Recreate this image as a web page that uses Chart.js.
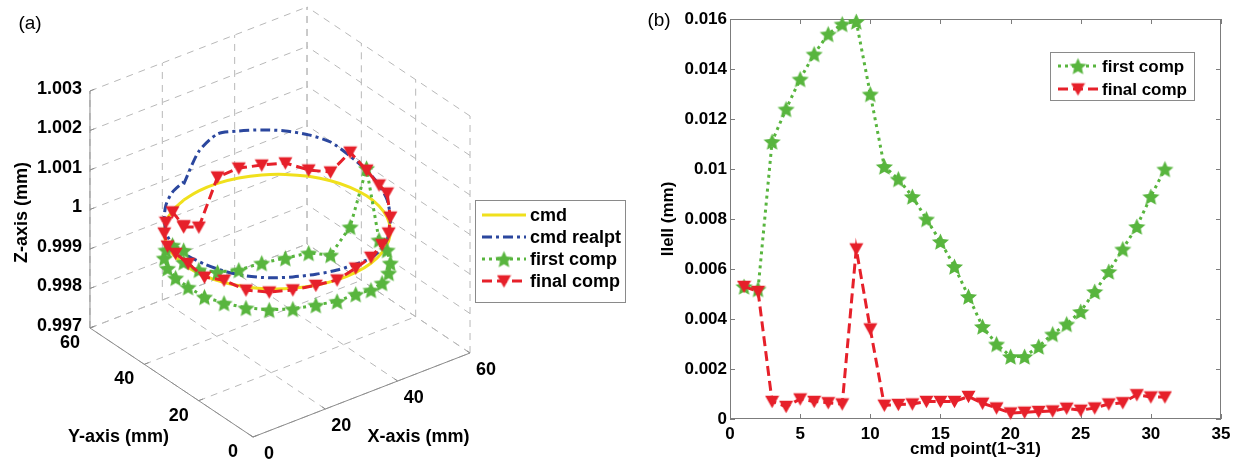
<!DOCTYPE html>
<html>
<head>
<meta charset="utf-8">
<script src="https://cdn.jsdelivr.net/npm/chart.js@4.4.0/dist/chart.umd.min.js"></script>
<style>
  html, body { margin: 0; padding: 0; background: #fff; }
  body { width: 1234px; height: 462px; position: relative; overflow: hidden; }
  canvas { position: absolute; top: 0; }
  #pathChart { left: 0; }
  #errChart { left: 630px; }
</style>
</head>
<body>
<canvas id="pathChart" width="640" height="462"></canvas>
<canvas id="errChart" width="604" height="462"></canvas>
<script>
// ---- (a) 3D path data ----
// angle of each of the 31 command points on the circle, in the XY plane (deg)
const pointAngles = [109, 97, 85, 73, 61, 49, 37, 25, 13, 1, -11, -23, -35, -47, -59, -71,
    -83, -95, -107, -119, -131, -143, -155, -167, -179, -191, -203, -215, -227, -239, -251];
const circleCenter = [27, 27];
const circleRadius = 25;

const cmdZ = [1, 1, 1, 1, 1, 1, 1, 1, 1, 1, 1, 1, 1, 1, 1, 1,
    1, 1, 1, 1, 1, 1, 1, 1, 1, 1, 1, 1, 1, 1, 1];
const realptZ = [1.0004, 1.001, 1.00125, 1.00119, 1.00114, 1.0011, 1.00105, 1.00098, 1.00079, 1.00065,
    1.00053, 1.00044, 1.0003, 1.00015, 1.00011, 1.00013, 1.00021, 1.00025, 1.00028, 1.00029,
    1.00028, 1.00028, 1.00029, 1.0003, 1.00029, 1.00026, 1.00025, 1.00036, 1.00044, 1.00047, 1.00046];
const firstZ = [0.99843, 0.998, 0.99775, 0.99767, 0.99777, 0.99788, 0.99806, 0.99812, 0.999, 1.0007,
    0.99914, 0.99917, 0.99914, 0.99919, 0.99923, 0.99932, 0.99945, 0.99946, 0.9995, 0.99948,
    0.99947, 0.99947, 0.99948, 0.99947, 0.9995, 0.99948, 0.99944, 0.9994, 0.9993, 0.99913, 0.99873];
const finalZ = [0.99932, 0.99908, 1.00016, 1.00025, 1.00025, 1.00029, 1.00016, 1.00022, 1.00089, 1.00065,
    1.00053, 1.00061, 1.0003, 1.0002, 1.0002, 1.00015, 1.00011, 1.0, 1.0, 0.99996,
    0.99992, 0.99992, 1.00006, 0.99997, 1.0001, 1.0001, 1.0, 1.00003, 1.0, 0.99997, 0.99935];

const xyTicks = [0, 20, 40, 60];
const zTicks = [0.997, 0.998, 0.999, 1, 1.001, 1.002, 1.003];
const zTickLabels = ['0.997', '0.998', '0.999', '1', '1.001', '1.002', '1.003'];

// ---- (b) error per command point ----
const cmdPoints = [1, 2, 3, 4, 5, 6, 7, 8, 9, 10, 11, 12, 13, 14, 15, 16,
    17, 18, 19, 20, 21, 22, 23, 24, 25, 26, 27, 28, 29, 30, 31];
const firstErr = [0.0053, 0.0052, 0.0111, 0.0124, 0.0136, 0.0146, 0.0154, 0.0158, 0.0159, 0.0130,
    0.0101, 0.0096, 0.0089, 0.0080, 0.0071, 0.0061, 0.0049, 0.0037, 0.0030, 0.0025,
    0.0025, 0.0029, 0.0034, 0.0038, 0.0043, 0.0051, 0.0059, 0.0068, 0.0077, 0.0089, 0.0100];
const finalErr = [0.0053, 0.0051, 0.0007, 0.0005, 0.0008, 0.0007, 0.00065, 0.0006, 0.0068, 0.0036,
    0.00055, 0.00058, 0.0006, 0.0007, 0.0007, 0.0007, 0.0009, 0.00063, 0.00044, 0.00024,
    0.00027, 0.0003, 0.00032, 0.00043, 0.00035, 0.00044, 0.0006, 0.00065, 0.00097, 0.00088, 0.00088];
const errTicks = [0, 0.002, 0.004, 0.006, 0.008, 0.01, 0.012, 0.014, 0.016];
const pointTicks = [0, 5, 10, 15, 20, 25, 30, 35];

// ---- styles ----
const FONT = 'Liberation Sans, Arial, sans-serif';
const GREEN = '#58b53e';
const RED = '#e6202a';
const BLUE = '#2b479e';
const YELLOW = '#f0e01c';

function starMarker(size, color) {
    const c = document.createElement('canvas');
    c.width = c.height = size;
    const g = c.getContext('2d');
    const r = size / 2;
    g.beginPath();
    for (let i = 0; i < 10; i++) {
        const a = -Math.PI / 2 + i * Math.PI / 5;
        const rr = i % 2 ? r * 0.44 : r - 0.5;
        g.lineTo(r + rr * Math.cos(a), r + 1 + rr * Math.sin(a));
    }
    g.closePath();
    g.fillStyle = color;
    g.fill();
    return c;
}

function triMarker(size, color) {
    const c = document.createElement('canvas');
    c.width = c.height = size;
    const g = c.getContext('2d');
    g.beginPath();
    g.moveTo(0.5, size * 0.12);
    g.lineTo(size - 0.5, size * 0.12);
    g.lineTo(size / 2, size * 0.95);
    g.closePath();
    g.fillStyle = color;
    g.fill();
    return c;
}

const styles = {
    cmd: { color: YELLOW, width: 3, dash: [] },
    realpt: { color: BLUE, width: 3, dash: [10, 4, 3, 4] },
    first: { color: GREEN, width: 3, dash: [3, 4], marker: starMarker(19, GREEN) },
    final: { color: RED, width: 3, dash: [10, 5], marker: triMarker(15, RED) }
};

function drawLegend(ctx, box, rows, font) {
    ctx.save();
    ctx.fillStyle = '#fff';
    ctx.strokeStyle = '#8a8a8a';
    ctx.lineWidth = 1;
    ctx.fillRect(box.x, box.y, box.w, box.h);
    ctx.strokeRect(box.x + 0.5, box.y + 0.5, box.w, box.h);
    ctx.font = font;
    ctx.textBaseline = 'middle';
    ctx.textAlign = 'left';
    rows.forEach(([label, s], i) => {
        const y = box.y + box.rowTop + i * box.rowGap;
        const x0 = box.x + box.lineLeft, x1 = x0 + box.lineLen;
        ctx.save();
        ctx.strokeStyle = s.color;
        ctx.lineWidth = s.width;
        ctx.setLineDash(s.dash);
        ctx.beginPath();
        ctx.moveTo(x0, y);
        ctx.lineTo(x1, y);
        ctx.stroke();
        ctx.restore();
        if (s.marker) ctx.drawImage(s.marker, (x0 + x1) / 2 - s.marker.width / 2, y - s.marker.height / 2);
        ctx.fillStyle = '#000';
        ctx.fillText(label, x1 + 4, y + 1);
    });
    ctx.restore();
}

// ---- (a) projection of the 3D view onto the page ----
const xDir = [3.617, 1.4];
const yDir = [-2.717, 1.817];
const zPerUnit = 39500;
const zBase = zTicks[0];

function project(x, y, z) {
    return { x: xDir[0] * x + yDir[0] * y, y: xDir[1] * x + yDir[1] * y + zPerUnit * (z - zBase) };
}

function ring(zs) {
    return pointAngles.map((a, i) => {
        const t = a * Math.PI / 180;
        return project(circleCenter[0] + circleRadius * Math.cos(t), circleCenter[1] + circleRadius * Math.sin(t), zs[i]);
    });
}

const box3d = {
    id: 'box3d',
    beforeDatasetsDraw(chart) {
        const { ctx, scales: { x: sx, y: sy } } = chart;
        const px = (x, y, z) => { const p = project(x, y, z); return [sx.getPixelForValue(p.x), sy.getPixelForValue(p.y)]; };
        const seg = (a, b) => { const p = px(...a), q = px(...b); ctx.moveTo(p[0], p[1]); ctx.lineTo(q[0], q[1]); };
        const lo = zTicks[0], hi = zTicks[zTicks.length - 1], m = xyTicks[xyTicks.length - 1];
        ctx.save();
        ctx.strokeStyle = '#b8b8b8';
        ctx.lineWidth = 1;
        ctx.setLineDash([7, 6]);
        ctx.beginPath();
        xyTicks.forEach(v => {
            seg([v, m, lo], [v, m, hi]);
            seg([m, v, lo], [m, v, hi]);
            seg([v, 0, lo], [v, m, lo]);
            seg([0, v, lo], [m, v, lo]);
        });
        zTicks.forEach(z => { seg([0, m, z], [m, m, z]); seg([m, 0, z], [m, m, z]); });
        ctx.stroke();

        ctx.setLineDash([]);
        ctx.strokeStyle = '#8c8c8c';
        ctx.beginPath();
        seg([0, m, lo], [0, m, hi]);
        seg([0, m, lo], [0, 0, lo]);
        seg([0, 0, lo], [m, 0, lo]);
        xyTicks.forEach(v => { seg([v, 0, lo], [v, 1.2, lo]); seg([0, v, lo], [1.2, v, lo]); });
        zTicks.forEach(z => seg([0, m, z], [1.2, m, z]));
        ctx.stroke();
        ctx.restore();
    },
    afterDraw(chart) {
        const { ctx, scales: { x: sx, y: sy } } = chart;
        const px = (x, y, z) => { const p = project(x, y, z); return [sx.getPixelForValue(p.x), sy.getPixelForValue(p.y)]; };
        const lo = zTicks[0], m = xyTicks[xyTicks.length - 1];
        ctx.save();
        ctx.fillStyle = '#000';
        ctx.font = `bold 18px ${FONT}`;
        ctx.textBaseline = 'middle';

        ctx.textAlign = 'right';
        zTicks.forEach((z, i) => { const [x, y] = px(0, m, z); ctx.fillText(zTickLabels[i], x - 8, y - 2); });

        ctx.textAlign = 'center';
        xyTicks.forEach(v => {
            const [yx, yy] = px(0, v, lo);
            ctx.fillText(String(v), yx - 20, yy + 15);
            const [xx, xy] = px(v, 0, lo);
            ctx.fillText(String(v), xx + 16, xy + 17);
        });

        const [ytx, yty] = px(0, m / 2, lo);
        ctx.fillText('Y-axis (mm)', ytx - 53, yty + 55);
        const [xtx, xty] = px(m / 2, 0, lo);
        ctx.fillText('X-axis (mm)', xtx + 57, xty + 42);
        const [ztx, zty] = px(0, m, 1);
        ctx.save();
        ctx.translate(ztx - 68, zty + 3);
        ctx.rotate(-Math.PI / 2);
        ctx.fillText('Z-axis (mm)', 0, 0);
        ctx.restore();

        ctx.font = `19px ${FONT}`;
        ctx.fillText('(a)', 30, 24);
        ctx.restore();

        drawLegend(ctx, { x: 475, y: 200, w: 150, h: 102, rowTop: 15, rowGap: 22, lineLeft: 7, lineLen: 44 },
            [['cmd', styles.cmd], ['cmd realpt', styles.realpt], ['first comp', styles.first], ['final comp', styles.final]],
            `bold 18px ${FONT}`);
    }
};

function pathSet(zs, s, order, tension) {
    return {
        data: ring(zs),
        showLine: true,
        borderColor: s.color,
        borderWidth: s.width,
        borderDash: s.dash,
        pointStyle: s.marker || 'circle',
        pointRadius: s.marker ? 7 : 0,
        tension: tension,
        clip: false,
        order: order
    };
}

new Chart(document.getElementById('pathChart'), {
    type: 'scatter',
    data: {
        datasets: [
            pathSet(cmdZ, styles.cmd, 4, 0.4),
            pathSet(realptZ, styles.realpt, 3, 0.25),
            pathSet(firstZ, styles.first, 2, 0),
            pathSet(finalZ, styles.final, 1, 0)
        ]
    },
    options: {
        responsive: false,
        animation: false,
        events: [],
        layout: { padding: 0, autoPadding: false },
        scales: {
            x: { type: 'linear', display: false, min: -253, max: 387 },
            y: { type: 'linear', display: false, min: -25, max: 437 }
        },
        plugins: { legend: { display: false }, tooltip: { enabled: false } }
    },
    plugins: [box3d]
});

// ---- (b) error chart ----
const frame = {
    id: 'frame',
    beforeDatasetsDraw(chart) {
        const { ctx, chartArea: a, scales: { x, y } } = chart;
        ctx.save();
        ctx.strokeStyle = '#7c7c7c';
        ctx.lineWidth = 1;
        ctx.strokeRect(a.left + 0.5, a.top + 0.5, a.right - a.left - 1, a.bottom - a.top - 1);
        ctx.beginPath();
        pointTicks.forEach(v => {
            const p = Math.round(x.getPixelForValue(v)) + 0.5;
            ctx.moveTo(p, a.bottom); ctx.lineTo(p, a.bottom - 5);
            ctx.moveTo(p, a.top); ctx.lineTo(p, a.top + 5);
        });
        errTicks.forEach(v => {
            const p = Math.round(y.getPixelForValue(v)) + 0.5;
            ctx.moveTo(a.left, p); ctx.lineTo(a.left + 5, p);
            ctx.moveTo(a.right, p); ctx.lineTo(a.right - 5, p);
        });
        ctx.stroke();
        ctx.restore();
    },
    afterDraw(chart) {
        const { ctx, chartArea: a } = chart;
        ctx.save();
        ctx.fillStyle = '#000';
        ctx.font = `bold 17px ${FONT}`;
        ctx.textAlign = 'center';
        ctx.textBaseline = 'middle';
        ctx.fillText('cmd point(1~31)', (a.left + a.right) / 2, a.bottom + 30);
        ctx.save();
        ctx.translate(38, (a.top + a.bottom) / 2);
        ctx.rotate(-Math.PI / 2);
        ctx.fillText('lleII (mm)', 0, 0);
        ctx.restore();
        ctx.font = `19px ${FONT}`;
        ctx.fillText('(b)', 29, 21);
        ctx.restore();

        drawLegend(ctx, { x: 420, y: 52, w: 144, h: 48, rowTop: 14, rowGap: 23, lineLeft: 8, lineLen: 40 },
            [['first comp', styles.first], ['final comp', styles.final]],
            `bold 17px ${FONT}`);
    }
};

const tickFont = { family: FONT, size: 17, weight: 'bold' };

new Chart(document.getElementById('errChart'), {
    type: 'scatter',
    data: {
        datasets: [
            {
                data: cmdPoints.map((p, i) => ({ x: p, y: firstErr[i] })),
                showLine: true,
                borderColor: GREEN,
                borderWidth: 3,
                borderDash: styles.first.dash,
                pointStyle: styles.first.marker,
                pointRadius: 7,
                clip: false,
                order: 2
            },
            {
                data: cmdPoints.map((p, i) => ({ x: p, y: finalErr[i] })),
                showLine: true,
                borderColor: RED,
                borderWidth: 3,
                borderDash: styles.final.dash,
                pointStyle: styles.final.marker,
                pointRadius: 7,
                clip: false,
                order: 1
            }
        ]
    },
    options: {
        responsive: false,
        animation: false,
        events: [],
        layout: { padding: { top: 19, right: 13, left: 0, bottom: 0 }, autoPadding: false },
        scales: {
            x: {
                type: 'linear',
                min: 0,
                max: 35,
                grid: { display: false, drawTicks: false },
                border: { display: false },
                afterBuildTicks: s => { s.ticks = pointTicks.map(v => ({ value: v })); },
                afterFit: s => { s.height = 43; s.paddingLeft = 0; s.paddingRight = 0; },
                ticks: { color: '#000', font: tickFont, padding: 5, maxRotation: 0, callback: v => String(v) }
            },
            y: {
                type: 'linear',
                min: 0,
                max: 0.016,
                grid: { display: false, drawTicks: false },
                border: { display: false },
                afterBuildTicks: s => { s.ticks = errTicks.map(v => ({ value: v })); },
                afterFit: s => { s.width = 100; s.paddingTop = 0; s.paddingBottom = 0; },
                ticks: { color: '#000', font: tickFont, padding: 3, callback: v => String(v) }
            }
        },
        plugins: { legend: { display: false }, tooltip: { enabled: false } }
    },
    plugins: [frame]
});
</script>
</body>
</html>
